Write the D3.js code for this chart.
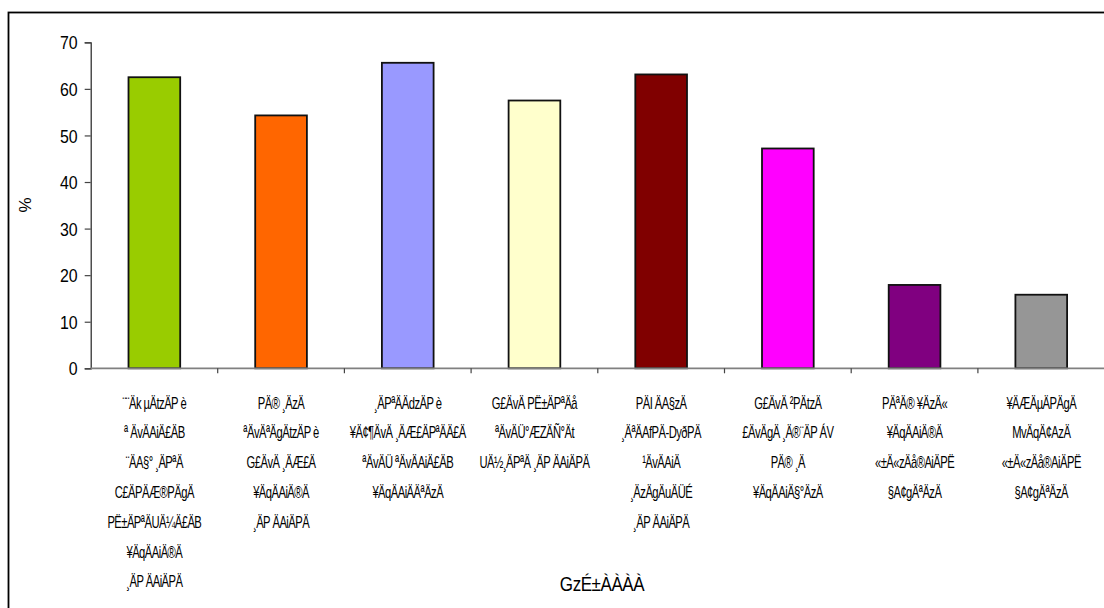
<!DOCTYPE html>
<html>
<head>
<meta charset="utf-8">
<script src="https://cdn.jsdelivr.net/npm/d3@7"></script>
<style>
  html, body { margin: 0; padding: 0; background: #fff; }
  svg { display: block; }
</style>
</head>
<body>
<svg id="chart" width="1104" height="608"></svg>
<script>
const categories = [
  ["¨¨Äk µÄtzÄP è", "ª ÄvÄAiÄ£ÄB", "¨ÄA§° ¸ÄPªÄ", "C£ÄPÄÆ®PÄgÄ", "PË±ÄPªÄUÄ¼Ä£ÄB", "¥ÄqÄAiÄ®Ä", "¸ÄP ÄAiÄPÄ"],
  ["PÄ® ¸ÄzÄ", "ªÄvÄªÄgÄtzÄP è", "G£ÄvÄ ¸ÄÆ£Ä", "¥ÄqÄAiÄ®Ä", "¸ÄP ÄAiÄPÄ"],
  ["¸ÄPªÄÄdzÄP è", "¥Ä¢¶ÄvÄ ¸ÄÆ£ÄPªÄÄ£Ä", "ªÄvÄÜ ªÄvÄAiÄ£ÄB", "¥ÄqÄAiÄÄªÄzÄ"],
  ["G£ÄvÄ PË±ÄPªÄå", "ªÄvÄÜ°ÆZÄÑ°Ät", "UÄ½¸ÄPªÄ ¸ÄP ÄAiÄPÄ"],
  ["PÄI ÄA§zÄ", "¸ÄªÄAfPÄ-DyðPÄ", "¹ÄvÄAiÄ", "¸ÄzÄgÄuÄÜÉ", "¸ÄP ÄAiÄPÄ"],
  ["G£ÄvÄ ²PÄtzÄ", "£ÄvÄgÄ ¸Ä®¨ÄP ÁV", "PÄ® ¸Ä", "¥ÄqÄAiÄ§°ÄzÄ"],
  ["PÄªÄ®  ¥ÄzÄ«", "¥ÄqÄAiÄ®Ä", "«±Ä«zÄå®AiÄPË", "§A¢gÄªÄzÄ"],
  ["¥ÄÆÄµÄPÄgÄ", "MvÄqÄ¢AzÄ", "«±Ä«zÄå®AiÄPË", "§A¢gÄªÄzÄ"]
];
const values = [62.5, 54.3, 65.6, 57.5, 63.1, 47.2, 17.9, 15.8];
const colors = ["#99cc00", "#ff6600", "#9999ff", "#ffffcc", "#800000", "#ff00ff", "#800080", "#969696"];
const yTicks = [0, 10, 20, 30, 40, 50, 60, 70];
const yTitle = "%";
const xTitle = "GzÉ±ÀÀÀÀ";

const svg = d3.select("#chart");
const font = "'Liberation Sans', Arial, sans-serif";

// outer frame
svg.append("rect")
  .attr("x", 8.5).attr("y", 12.5)
  .attr("width", 1120).attr("height", 620)
  .attr("fill", "none").attr("stroke", "#000").attr("stroke-width", 1.8);

const idx = d3.range(values.length);
const x = d3.scaleBand().domain(idx).range([91, 1104.6]).paddingInner(0.592).paddingOuter(0.296);
const y = d3.scaleLinear().domain([0, 70]).range([368.3, 42.3]);

// bars
svg.append("g").selectAll("rect").data(idx).join("rect")
  .attr("x", i => x(i))
  .attr("y", i => y(values[i]))
  .attr("width", x.bandwidth())
  .attr("height", i => y(0) - y(values[i]))
  .attr("fill", i => colors[i])
  .attr("stroke", "#111").attr("stroke-width", 1.8);

// y axis
const yAxis = svg.append("g").attr("transform", "translate(90.7,0)")
  .call(d3.axisLeft(y).tickValues(yTicks).tickSize(6).tickPadding(7).tickFormat(d3.format("d")));
yAxis.select(".domain").attr("stroke", "#222").attr("stroke-width", 1.2);
yAxis.selectAll(".tick line").attr("stroke", "#444").attr("stroke-width", 1.2);
yAxis.selectAll(".tick text")
  .attr("font-family", font).attr("font-size", 18.5).attr("fill", "#000")
  .attr("dy", "0.36em")
  .attr("transform", function () {
    const tx = +d3.select(this).attr("x");
    return `translate(${tx},0) scale(0.86,1) translate(${-tx},0)`;
  });

// x axis line with tick marks at band boundaries
const step = x.step();
const bounds = d3.range(values.length + 1).map(i => x.range()[0] + i * step);
svg.append("line")
  .attr("x1", 90.7).attr("x2", 1104)
  .attr("y1", y(0)).attr("y2", y(0))
  .attr("stroke", "#808080").attr("stroke-width", 1.8);
svg.append("g").selectAll("line").data(bounds.slice(1, -1)).join("line")
  .attr("x1", d => d).attr("x2", d => d)
  .attr("y1", y(0)).attr("y2", y(0) + 5)
  .attr("stroke", "#444").attr("stroke-width", 1.2);

// category labels (narrow, compressed glyphs)
const labelG = svg.append("g")
  .attr("font-family", font).attr("font-size", 17).attr("letter-spacing", "-0.8px")
  .attr("fill", "#000").attr("text-anchor", "middle");
idx.forEach(i => {
  const cx = x(i) + x.bandwidth() / 2;
  categories[i].forEach((line, j) => {
    labelG.append("text")
      .attr("transform", `translate(${cx},${408.5 + j * 29.8}) scale(0.66,1)`)
      .text(line);
  });
});

// titles
svg.append("text")
  .attr("transform", "translate(31,205) rotate(-90)")
  .attr("text-anchor", "middle")
  .attr("font-family", font).attr("font-size", 17).attr("fill", "#000")
  .text(yTitle);
svg.append("text")
  .attr("transform", "translate(602,591) scale(0.85,1)")
  .attr("text-anchor", "middle")
  .attr("font-family", font).attr("font-size", 20)
  .attr("letter-spacing", "-0.5px").attr("fill", "#000")
  .text(xTitle);
</script>
</body>
</html>
